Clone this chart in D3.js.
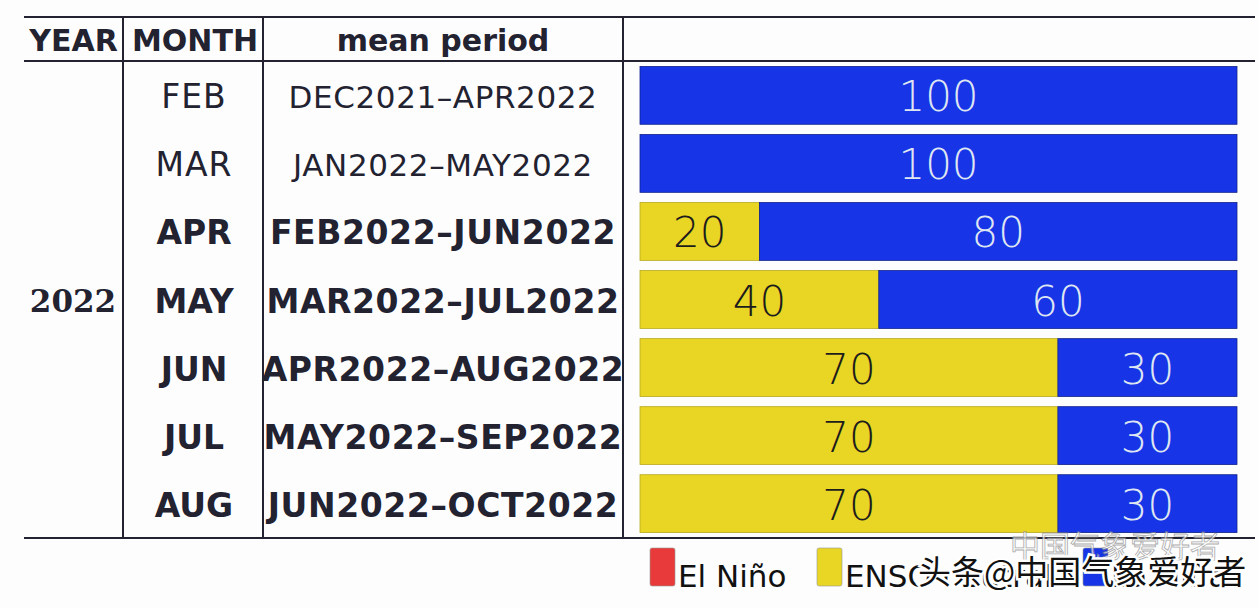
<!DOCTYPE html>
<html>
<head>
<meta charset="utf-8">
<script src="https://cdn.jsdelivr.net/npm/d3@7"></script>
<style>
html,body{margin:0;padding:0;background:#fdfdfe;}
svg{display:block;}
</style>
</head>
<body>
<svg id="chart" width="1258" height="608"></svg>
<script>
// ---- data ----
const year = "2022";
const months = ["FEB","MAR","APR","MAY","JUN","JUL","AUG"];
const periods = ["DEC2021–APR2022","JAN2022–MAY2022","FEB2022–JUN2022","MAR2022–JUL2022","APR2022–AUG2022","MAY2022–SEP2022","JUN2022–OCT2022"];
const boldRows = [false,false,true,true,true,true,true];
const elNino = [0,0,0,0,0,0,0];
const neutral = [0,0,20,40,70,70,70];
const laNina = [100,100,80,60,30,30,30];
const headers = ["YEAR","MONTH","mean period"];
const legendLabels = ["El Niño","ENSO neutral","La Niña"];
const colors = {elNino:"#e83a3a", neutral:"#e8d524", laNina:"#1735e6"};

const svg = d3.select("#chart");
const top0 = 17, headBottom = 61, bottom = 538;
const colX = [24, 123, 263, 623, 1255];

const y = d3.scaleBand().domain(months).range([headBottom, bottom]).paddingInner(0.15).paddingOuter(0.08);
const x = d3.scaleLinear().domain([0,100]).range([640, 1237]);

// grid lines
const ink = "#222230";
svg.append("g").selectAll("line.h").data([top0, headBottom, bottom]).join("line")
  .attr("x1", colX[0]).attr("x2", colX[4]).attr("y1", d=>d).attr("y2", d=>d)
  .attr("stroke", ink).attr("stroke-width", 2);
svg.append("g").selectAll("line.v").data([colX[1], colX[2], colX[3]]).join("line")
  .attr("x1", d=>d).attr("x2", d=>d).attr("y1", top0).attr("y2", bottom)
  .attr("stroke", ink).attr("stroke-width", 2);

// headers
const headCx = [(colX[0]+colX[1])/2, (colX[1]+colX[2])/2+2, (colX[2]+colX[3])/2];
svg.append("g").selectAll("text").data(headers).join("text")
  .attr("x", (d,i)=>headCx[i]).attr("y", 51)
  .attr("text-anchor","middle")
  .attr("font-family","DejaVu Sans").attr("font-weight","bold").attr("font-size",30)
  .attr("fill", ink).text(d=>d);

// year
svg.append("text").attr("x", 73).attr("y", (headBottom+bottom)/2 + 12)
  .attr("text-anchor","middle").attr("font-family","DejaVu Serif").attr("font-weight","bold")
  .attr("font-size",31).attr("fill", ink).text(year);

// month & period
const rows = months.map((m,i)=>({m, p:periods[i], b:boldRows[i], n:neutral[i], l:laNina[i], e:elNino[i]}));
const rowG = svg.append("g").selectAll("g").data(rows).join("g");
rowG.append("text")
  .attr("x", 194).attr("y", d=>y(d.m)+y.bandwidth()/2 + 13)
  .attr("text-anchor","middle").attr("font-family","DejaVu Sans")
  .attr("font-weight", d=>d.b?"bold":"normal").attr("font-size", d=>d.b?33:33)
  .attr("letter-spacing", d=>d.b?"0px":"1px")
  .attr("fill", ink).text(d=>d.m);
rowG.append("text")
  .attr("x", 443).attr("y", d=>y(d.m)+y.bandwidth()/2 + 13)
  .attr("text-anchor","middle").attr("font-family","DejaVu Sans")
  .attr("font-weight", d=>d.b?"bold":"normal").attr("font-size", d=>d.b?33:31)
  .attr("letter-spacing", "0.6px")
  .attr("fill", ink).text(d=>d.p);

// bars
const segs = [];
rows.forEach(r=>{
  let acc = 0;
  [["elNino",r.e],["neutral",r.n],["laNina",r.l]].forEach(([k,v])=>{
    if(v>0){ segs.push({m:r.m, k, v, x0:acc, x1:acc+v}); }
    acc += v;
  });
});
const barG = svg.append("g");
barG.selectAll("rect").data(segs).join("rect")
  .attr("x", d=>x(d.x0)).attr("width", d=>x(d.x1)-x(d.x0))
  .attr("y", d=>y(d.m)).attr("height", y.bandwidth())
  .attr("fill", d=>colors[d.k])
  .attr("stroke", d=>d.k==="laNina"?"#10228a":"#b8a820").attr("stroke-width",0.8);
barG.selectAll("text").data(segs).join("text")
  .attr("x", d=>(x(d.x0)+x(d.x1))/2).attr("y", d=>y(d.m)+y.bandwidth()/2+16)
  .attr("text-anchor","middle").attr("font-family","DejaVu Sans").attr("font-weight",200)
  .attr("font-size",42).attr("fill", d=>d.k==="laNina"?"#dfe6f2":"#1c1c1c")
  .text(d=>d.v);

// legend
const legX = [650, 817, 1083];
const legKeys = ["elNino","neutral","laNina"];
const lg = svg.append("g").selectAll("g").data(legendLabels).join("g");
lg.append("rect").attr("x",(d,i)=>legX[i]).attr("y",548).attr("width",25).attr("height",38)
  .attr("rx",2).attr("fill",(d,i)=>colors[legKeys[i]]).attr("stroke","#999").attr("stroke-width",0.6);
lg.append("text").attr("x",(d,i)=>legX[i]+28).attr("y",587)
  .attr("font-family","DejaVu Sans").attr("font-size",31).attr("fill","#111").text(d=>d);

// watermark
svg.append("text").attr("x",1010).attr("y",557).attr("font-family","Noto Sans CJK SC")
  .attr("font-size",30).attr("fill","#fff").attr("stroke","#888").attr("stroke-width",0.8)
  .attr("opacity",0.7).text("中国气象爱好者");
svg.append("text").attr("x",918).attr("y",584).attr("font-family","Noto Sans CJK SC")
  .attr("font-size",33).attr("fill","#111").attr("stroke","#fff").attr("stroke-width",5)
  .attr("paint-order","stroke").text("头条@中国气象爱好者");
</script>
</body>
</html>
